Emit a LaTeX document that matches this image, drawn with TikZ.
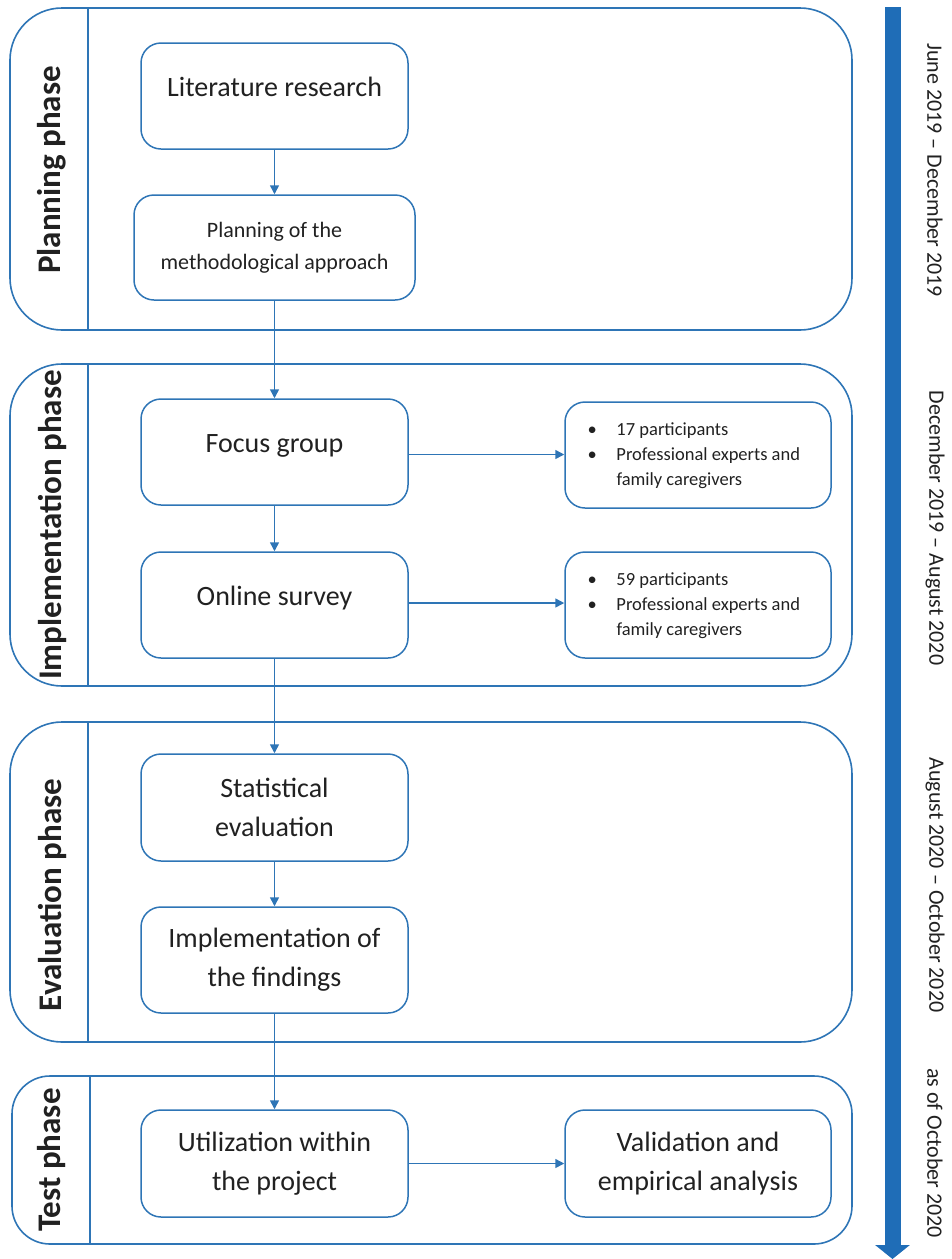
\documentclass[tikz,border=0pt]{standalone}
\usepackage{fontspec}
\setmainfont{Carlito}
\usepackage{array}
\usepackage{tikz}
\usetikzlibrary{arrows.meta, positioning, calc, backgrounds}
\definecolor{lineblue}{RGB}{46, 117, 182}
\definecolor{barblue}{RGB}{31, 109, 183}
\definecolor{textdark}{RGB}{33, 33, 33}
\tikzset{
    phasebox/.style={rectangle, rounded corners=52pt, draw=lineblue, line width=1.6pt, minimum width=842pt},
    divider/.style={draw=lineblue, line width=1.6pt},
    task/.style={rectangle, rounded corners=20pt, draw=lineblue, line width=1.5pt, align=center, text=textdark, minimum width=267pt, minimum height=106pt, font=\fontsize{28}{39}\selectfont},
    oneline/.style={text height=20pt, text depth=20pt},
    infobox/.style={rectangle, rounded corners=20pt, draw=lineblue, line width=1.5pt, text=textdark, minimum width=266pt, minimum height=106pt, inner sep=0pt, font=\fontsize{18.5}{25}\selectfont},
    arrow/.style={-{Triangle[length=9pt, width=9pt]}, line width=1.5pt, draw=lineblue},
    timeline/.style={-{Triangle[length=14pt, width=34pt]}, line width=16pt, draw=barblue},
    phase_label/.style={rotate=90, font=\fontsize{33}{40}\selectfont\bfseries, text=textdark},
    date_label/.style={rotate=-90, font=\fontsize{22}{26}\selectfont, text=textdark}
}
\newcommand{\bulletlist}[2]{%
    \begin{tabular}{@{}p{36pt}@{}>{\raggedright\arraybackslash}p{199pt}@{}}
        \hspace*{7pt}\textbullet & #1\\
        \hspace*{7pt}\textbullet & #2
    \end{tabular}}

\begin{document}
\begin{tikzpicture}[x=1pt, y=-1pt]

    \useasboundingbox (0,0) rectangle (951,1259);

    \node (lit)    [task, oneline] at (274.5,96) {Literature research};
    \node (plan)   [task, below=44.5pt of lit, minimum width=281pt, minimum height=105pt, font=\fontsize{22}{32}\selectfont] {Planning of the\\methodological approach};

    \node (focus)  [task, oneline, below=97.5pt of plan] {Focus group};
    \node (survey) [task, oneline, below=45.5pt of focus] {Online survey};
    \node (info1)  [infobox, right=155.5pt of focus, yshift=-3pt] {\bulletlist{17 participants}{Professional experts and family caregivers}};
    \node (info2)  [infobox, right=155.5pt of survey] {\bulletlist{59 participants}{Professional experts and family caregivers}};

    \node (stat)   [task, below=94.5pt of survey, minimum height=107pt] {Statistical\\evaluation};
    \node (impl)   [task, below=44.5pt of stat] {Implementation of\\the findings};

    \node (util)   [task, below=95.5pt of impl, minimum height=107pt] {Utilization within\\the project};
    \node (valid)  [task, right=155.5pt of util, minimum width=266pt, minimum height=107pt] {Validation and\\empirical analysis};

    \draw [arrow] (lit) -- (plan);
    \draw [arrow] (plan) -- (focus);
    \draw [arrow] (focus) -- (survey);
    \draw [arrow] ([yshift=-2.5pt]focus.east) -- ([yshift=-2.5pt]focus.east -| info1.west);
    \draw [arrow] ([yshift=2pt]survey.east) -- ([yshift=2pt]survey.east -| info2.west);
    \draw [arrow] (survey) -- (stat);
    \draw [arrow] (stat) -- (impl);
    \draw [arrow] (impl) -- (util);
    \draw [arrow] (util) -- (valid);

    \begin{scope}[on background layer]
        \node (planbox) [phasebox, minimum height=322pt] at (431,169) {};
        \node (implbox) [phasebox, minimum height=322pt] at (431,525) {};
        \node (evalbox) [phasebox, minimum height=320pt] at (431,882) {};
        \node (testbox) [phasebox, rounded corners=38pt, minimum width=840pt, minimum height=168pt] at (432,1160) {};
        \foreach \b in {planbox, implbox, evalbox, testbox}
            \draw [divider] ($(\b.north west)+(79,0)$) -- ($(\b.south west)+(79,0)$);
    \end{scope}

    \node (planlabel) [phase_label] at (52,170) {Planning phase};
    \node (impllabel) [phase_label] at (52,525) {Implementation phase};
    \node (evallabel) [phase_label] at (52,895) {Evaluation phase};
    \node (testlabel) [phase_label] at (52,1160) {Test phase};

    \coordinate (tstart) at (892.5,7);
    \coordinate (tend)   at (892.5,1259);
    \draw [timeline] (tstart) -- (tend);

    \node (date1) [date_label] at (935,170) {June 2019 – December 2019};
    \node (date2) [date_label] at (935,528) {December 2019 – August 2020};
    \node (date3) [date_label] at (935,885) {August 2020 – October 2020};
    \node (date4) [date_label] at (935,1153) {as of October 2020};

\end{tikzpicture}
\end{document}
